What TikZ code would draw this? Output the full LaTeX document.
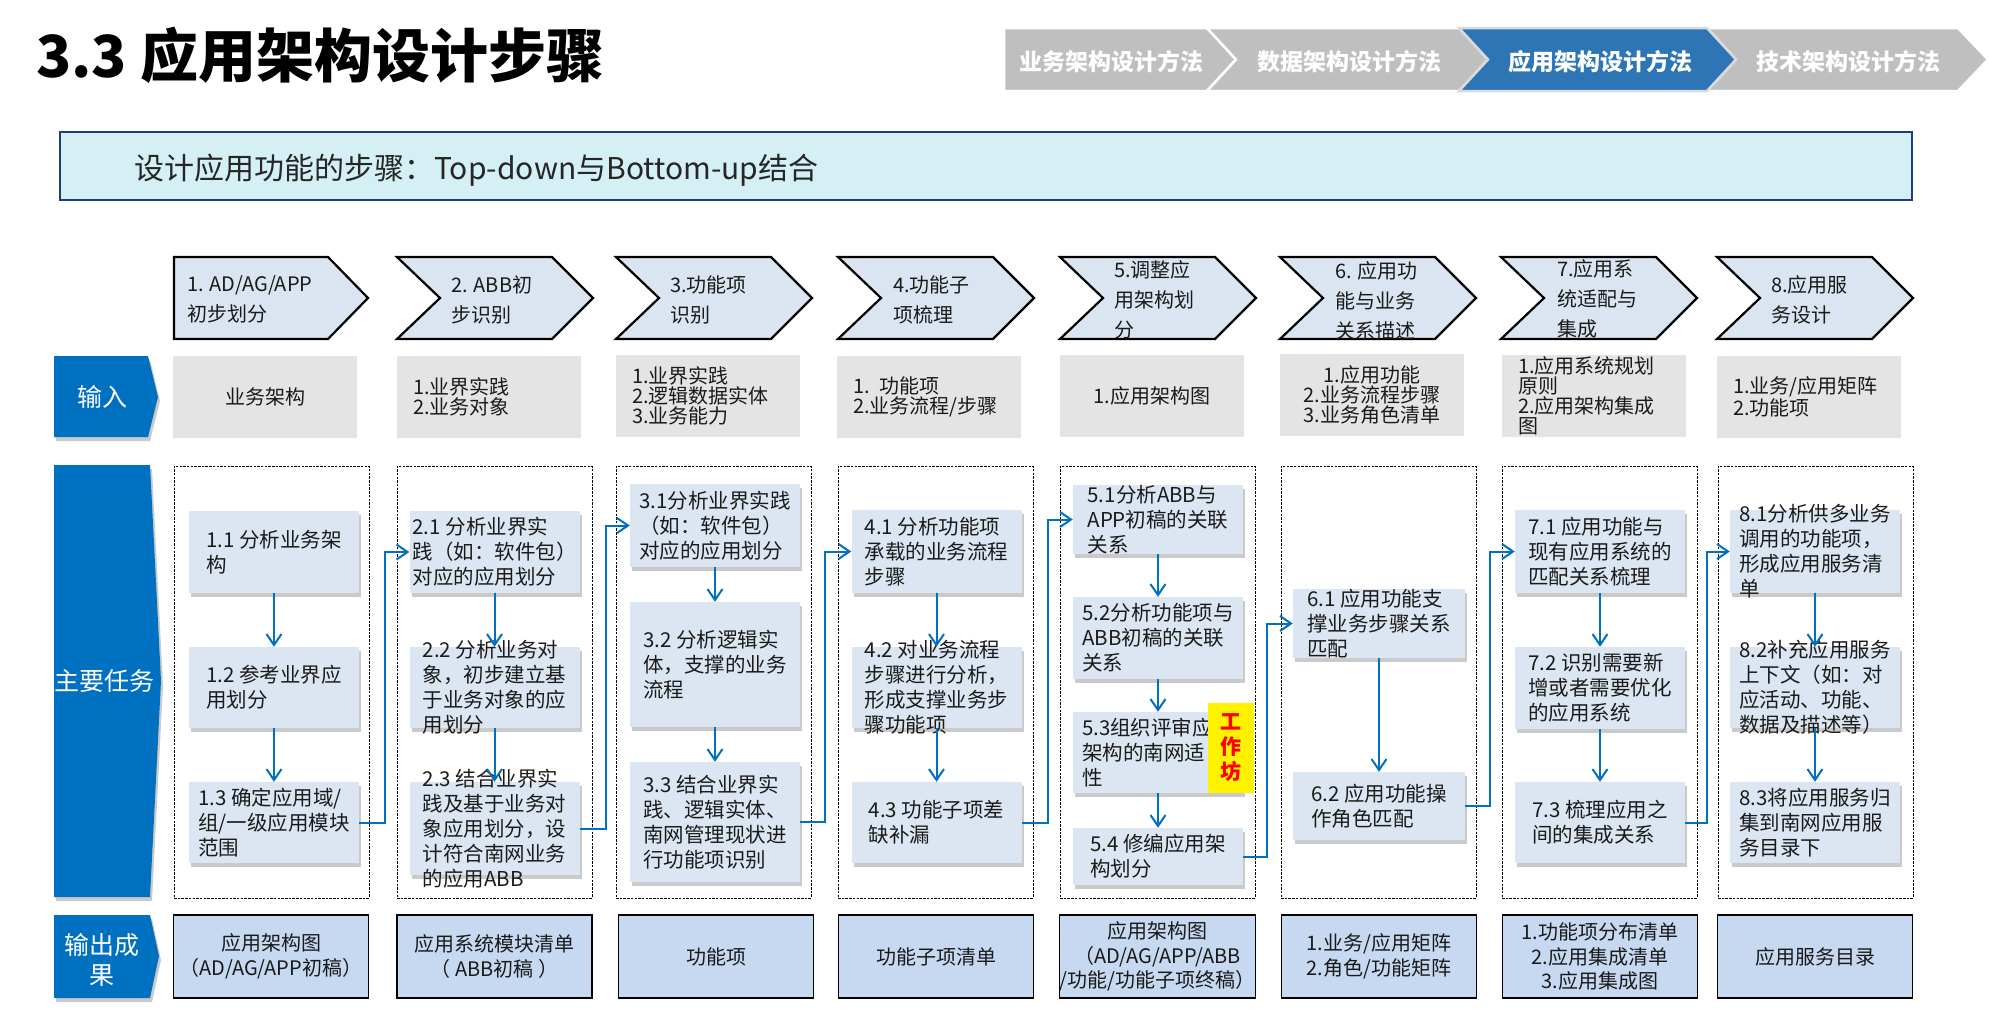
\documentclass[tikz,border=0pt]{standalone}
\usepackage{fontspec}
\setmainfont{Noto Sans CJK SC}
\usetikzlibrary{arrows.meta,shadows}
\definecolor{lblue}{HTML}{0070C0}
\definecolor{chevfill}{HTML}{DBE5F1}
\definecolor{taskfill}{HTML}{DCE6F2}
\definecolor{infill}{HTML}{E4E4E4}
\definecolor{outfill}{HTML}{C6D9F1}
\definecolor{hdrfill}{HTML}{D4F0F5}
\definecolor{hdrline}{HTML}{1F3C7C}
\definecolor{crumbgray}{HTML}{BFBFBF}
\definecolor{crumbblue}{HTML}{2E75B6}
\definecolor{txtdark}{HTML}{1A1A1A}
\begin{document}
\begin{tikzpicture}[x=1pt,y=-1pt,
  softshadow/.style={drop shadow={shadow xshift=2pt,shadow yshift=-4pt,fill=black!60,opacity=0.35}},
  taskbox/.style={fill=taskfill,inner sep=0pt,minimum width=170pt,softshadow},
  tasktxt/.style={font=\fontsize{20.5}{25}\selectfont,align=left,inner sep=0pt,text=txtdark},
  colbox/.style={draw=black,line width=1pt,dash pattern=on 2.5pt off 1.2pt,minimum width=195pt,minimum height=432pt,inner sep=0pt},
  inbox/.style={fill=infill,minimum width=184pt,minimum height=82pt,inner sep=0pt,font=\fontsize{20}{20}\selectfont,text=txtdark},
  inleft/.style={inbox,inner xsep=16pt,text width=152pt,align=left},
  outbox/.style={draw=black,line width=1.2pt,fill=outfill,minimum width=195pt,minimum height=83pt,inner sep=0pt,align=center,font=\fontsize{20}{24.5}\selectfont,text=txtdark},
  chev/.style={draw=black,line width=2.2pt,fill=chevfill,line join=miter},
  chevtxt/.style={anchor=west,align=left,inner sep=0pt,font=\fontsize{20}{30}\selectfont,text=txtdark},
  lbl/.style={fill=lblue,softshadow},
  lbltxt/.style={text=white,align=center,inner sep=0pt,font=\fontsize{25}{30}\selectfont},
  crumb/.style={draw=white,line width=2.5pt,line join=miter},
  crumbtxt/.style={text=white,inner sep=0pt,font=\fontsize{23}{25}\selectfont\bfseries},
  conn/.style={draw=lblue,line width=2pt,-{Straight Barb[length=11pt,width=15pt]}}
]
\useasboundingbox (0,0) rectangle (1990,1013);

% ---------- title ----------
\node[anchor=west,inner sep=0pt,font=\fontsize{58}{60}\selectfont\bfseries] (title) at (36,55) {3.3 应用架构设计步骤};

% ---------- breadcrumb ----------
\path[crumb,fill=crumbgray] (1004,28) -- (1207,28) -- (1236,59.5) -- (1207,91) -- (1004,91) -- cycle;
\path[crumb,fill=crumbgray] (1207,28) -- (1459,28) -- (1488,59.5) -- (1459,91) -- (1207,91) -- (1236,59.5) -- cycle;
\path[crumb,fill=crumbgray] (1707,28) -- (1958,28) -- (1988,59.5) -- (1958,91) -- (1707,91) -- (1736,59.5) -- cycle;
\path[crumb,fill=crumbblue,draw=black!15] (1459,28) -- (1707,28) -- (1736,59.5) -- (1707,91) -- (1459,91) -- (1488,59.5) -- cycle;
\node[crumbtxt] (b1) at (1111,62) {业务架构设计方法};
\node[crumbtxt] (b2) at (1349,62) {数据架构设计方法};
\node[crumbtxt] (b3) at (1600,62) {应用架构设计方法};
\node[crumbtxt] (b4) at (1848,62) {技术架构设计方法};

% ---------- header ----------
\node[draw=hdrline,fill=hdrfill,line width=2.5pt,minimum width=1852pt,minimum height=68pt,inner sep=0pt] (hdr) at (986,166) {};
\node[anchor=west,inner sep=0pt,font=\fontsize{30}{32}\selectfont,text=black!85] (hdrtxt) at (134,170) {设计应用功能的步骤：Top-down与Bottom-up结合};

% ---------- step chevrons ----------
\path[chev] (174,257) -- (328,257) -- (368,298) -- (328,339) -- (174,339) -- cycle;
\foreach \L in {397,616,838,1060,1280,1501,1717}{
  \path[chev] (\L,257) -- (\L+155,257) -- (\L+196,298) -- (\L+155,339) -- (\L,339) -- (\L+43,298) -- cycle;
}
\node[chevtxt] (s1) at (187,299) {1. AD/AG/APP\\初步划分};
\node[chevtxt] (s2) at (451,300) {2. ABB初\\步识别};
\node[chevtxt] (s3) at (670,300) {3.功能项\\识别};
\node[chevtxt] (s4) at (893,300) {4.功能子\\项梳理};
\node[chevtxt] (s5) at (1114,300) {5.调整应\\用架构划\\分};
\node[chevtxt] (s6) at (1335,301) {6. 应用功\\能与业务\\关系描述};
\node[chevtxt] (s7) at (1557,299) {7.应用系\\统适配与\\集成};
\node[chevtxt] (s8) at (1771,300) {8.应用服\\务设计};

% ---------- row labels ----------
\path[lbl] (54,356) -- (148,356) -- (158,397) -- (148,437) -- (54,437) -- cycle;
\node[lbltxt] (linput) at (102,397) {输入};
\path[lbl] (54,465) -- (150,465) -- (161,681) -- (150,897) -- (54,897) -- cycle;
\node[lbltxt] (ltask) at (104,681) {主要任务};
\path[lbl] (54,915) -- (150,915) -- (159,956) -- (150,998) -- (54,998) -- cycle;
\node[lbltxt] (lout) at (102,960) {输出成\\果};

% ---------- input row ----------
\node[inbox] (i1) at (265,397) {业务架构};
\node[inleft] (i2) at (489,397) {1.业界实践\\2.业务对象};
\node[inleft] (i3) at (708,396) {1.业界实践\\2.逻辑数据实体\\3.业务能力};
\node[inleft] (i4) at (929,397) {1. 功能项\\2.业务流程/步骤};
\node[inbox] (i5) at (1152,396) {1.应用架构图};
\node[inbox,align=center] (i6) at (1372,395) {1.应用功能\\2.业务流程步骤\\3.业务角色清单};
\node[inleft] (i7) at (1594,396) {1.应用系统规划\\原则\\2.应用架构集成\\图};
\node[inleft] (i8) at (1809,397) {1.业务/应用矩阵\\2.功能项};

% ---------- task columns (dashed) ----------
\node[colbox] (c1) at (271.5,682) {};
\node[colbox] (c2) at (494.5,682) {};
\node[colbox] (c3) at (713.5,682) {};
\node[colbox] (c4) at (935.5,682) {};
\node[colbox] (c5) at (1157.5,682) {};
\node[colbox] (c6) at (1378.5,682) {};
\node[colbox] (c7) at (1599.5,682) {};
\node[colbox] (c8) at (1815.5,682) {};

% ---------- task boxes ----------
\node[taskbox,minimum height=82pt] (t11) at (274,552) {};
\node[taskbox,minimum height=81pt] (t12) at (274,687.5) {};
\node[taskbox,minimum height=81pt] (t13) at (274,822.5) {};
\node[taskbox,minimum height=82pt] (t21) at (494.5,552) {};
\node[taskbox,minimum height=81pt] (t22) at (494.5,687.5) {};
\node[taskbox,minimum height=93pt] (t23) at (494.5,828.5) {};
\node[taskbox,minimum height=83pt] (t31) at (715,525.5) {};
\node[taskbox,minimum height=125pt] (t32) at (715,664.5) {};
\node[taskbox,minimum height=120pt] (t33) at (715,822) {};
\node[taskbox,minimum height=83pt] (t41) at (936.5,551.5) {};
\node[taskbox,minimum height=81pt] (t42) at (936.5,687.5) {};
\node[taskbox,minimum height=81pt] (t43) at (936.5,822.5) {};
\node[taskbox,minimum height=69pt] (t51) at (1158,519.5) {};
\node[taskbox,minimum height=82pt] (t52) at (1158,638) {};
\node[taskbox,minimum height=81pt] (t53) at (1158,752.5) {};
\node[taskbox,minimum height=57pt] (t54) at (1158,856.5) {};
\node[taskbox,minimum height=69pt,minimum width=172pt] (t61) at (1379,623.5) {};
\node[taskbox,minimum height=68pt,minimum width=172pt] (t62) at (1379,806) {};
\node[taskbox,minimum height=83pt] (t71) at (1600,551.5) {};
\node[taskbox,minimum height=82pt] (t72) at (1600,688) {};
\node[taskbox,minimum height=81pt] (t73) at (1600,822.5) {};
\node[taskbox,minimum height=83pt] (t81) at (1815,551.5) {};
\node[taskbox,minimum height=81pt] (t82) at (1815,687.5) {};
\node[taskbox,minimum height=81pt] (t83) at (1815,822.5) {};

\node[tasktxt] (x11) at (t11.center) {1.1 分析业务架\\构};
\node[tasktxt] (x12) at (t12.center) {1.2 参考业界应\\用划分};
\node[tasktxt] (x13) at (t13.center) {1.3 确定应用域/\\组/一级应用模块\\范围};
\node[tasktxt] (x21) at (t21.center) {2.1 分析业界实\\践（如：软件包）\\对应的应用划分};
\node[tasktxt] (x22) at (t22.center) {2.2 分析业务对\\象，初步建立基\\于业务对象的应\\用划分};
\node[tasktxt] (x23) at (t23.center) {2.3 结合业界实\\践及基于业务对\\象应用划分，设\\计符合南网业务\\的应用ABB};
\node[tasktxt] (x31) at (t31.center) {3.1分析业界实践\\（如：软件包）\\对应的应用划分};
\node[tasktxt] (x32) at (t32.center) {3.2 分析逻辑实\\体，支撑的业务\\流程};
\node[tasktxt] (x33) at (t33.center) {3.3 结合业界实\\践、逻辑实体、\\南网管理现状进\\行功能项识别};
\node[tasktxt] (x41) at (t41.center) {4.1 分析功能项\\承载的业务流程\\步骤};
\node[tasktxt] (x42) at (t42.center) {4.2 对业务流程\\步骤进行分析，\\形成支撑业务步\\骤功能项};
\node[tasktxt] (x43) at (t43.center) {4.3 功能子项差\\缺补漏};
\node[tasktxt] (x51) at (t51.center) {5.1分析ABB与\\APP初稿的关联\\关系};
\node[tasktxt] (x52) at (t52.center) {5.2分析功能项与\\ABB初稿的关联\\关系};
\node[tasktxt,anchor=west] (x53) at ([xshift=9pt]t53.west) {5.3组织评审应\\架构的南网适\\性};
\node[tasktxt] (x54) at (t54.center) {5.4 修编应用架\\构划分};
\node[tasktxt] (x61) at (t61.center) {6.1 应用功能支\\撑业务步骤关系\\匹配};
\node[tasktxt] (x62) at (t62.center) {6.2 应用功能操\\作角色匹配};
\node[tasktxt] (x71) at (t71.center) {7.1 应用功能与\\现有应用系统的\\匹配关系梳理};
\node[tasktxt] (x72) at (t72.center) {7.2 识别需要新\\增或者需要优化\\的应用系统};
\node[tasktxt] (x73) at (t73.center) {7.3 梳理应用之\\间的集成关系};
\node[tasktxt] (x81) at (t81.center) {8.1分析供多业务\\调用的功能项，\\形成应用服务清\\单};
\node[tasktxt] (x82) at (t82.center) {8.2补充应用服务\\上下文（如：对\\应活动、功能、\\数据及描述等）};
\node[tasktxt] (x83) at (t83.center) {8.3将应用服务归\\集到南网应用服\\务目录下};

% workshop tag
\node[fill=yellow,minimum width=46pt,minimum height=90pt,inner sep=0pt,align=center,text=red,font=\fontsize{21}{25}\selectfont\bfseries] (ws) at (1231,748) {工\\作\\坊};

% ---------- connectors ----------
\draw[conn] (t11.south) -- (t12.north);
\draw[conn] (t12.south) -- (t13.north);
\draw[conn] (t21.south) -- (t22.north);
\draw[conn] (t22.south) -- (t23.north);
\draw[conn] (t31.south) -- (t32.north);
\draw[conn] (t32.south) -- (t33.north);
\draw[conn] (t41.south) -- (t42.north);
\draw[conn] (t42.south) -- (t43.north);
\draw[conn] (t51.south) -- (t52.north);
\draw[conn] (t52.south) -- (t53.north);
\draw[conn] (t53.south) -- (t54.north);
\draw[conn] (t61.south) -- (t62.north);
\draw[conn] (t71.south) -- (t72.north);
\draw[conn] (t72.south) -- (t73.north);
\draw[conn] (t81.south) -- (t82.north);
\draw[conn] (t82.south) -- (t83.north);

\draw[conn] (t13.east) -- ++(26,0) |- (t21.west);
\draw[conn] (t23.east) -- ++(26,0) |- (t31.west);
\draw[conn] (t33.east) -- ++(25,0) |- (t41.west);
\draw[conn] (t43.east) -- ++(26,0) |- (t51.west);
\draw[conn] (t54.east) -- ++(24,0) |- (t61.west);
\draw[conn] (t62.east) -- ++(25,0) |- (t71.west);
\draw[conn] (t73.east) -- ++(22,0) |- (t81.west);

% ---------- output row ----------
\node[outbox] (o1) at (271,956.5) {应用架构图\\（AD/AG/APP初稿）};
\node[outbox] (o2) at (494.5,956.5) {应用系统模块清单\\（ ABB初稿 ）};
\node[outbox] (o3) at (716,956.5) {功能项};
\node[outbox] (o4) at (936,956.5) {功能子项清单};
\node[outbox] (o5) at (1157.5,956.5) {应用架构图\\（AD/AG/APP/ABB\\/功能/功能子项终稿）};
\node[outbox] (o6) at (1379,956.5) {1.业务/应用矩阵\\2.角色/功能矩阵};
\node[outbox] (o7) at (1600,956.5) {1.功能项分布清单\\2.应用集成清单\\3.应用集成图};
\node[outbox] (o8) at (1815,956.5) {应用服务目录};
\end{tikzpicture}
\end{document}
